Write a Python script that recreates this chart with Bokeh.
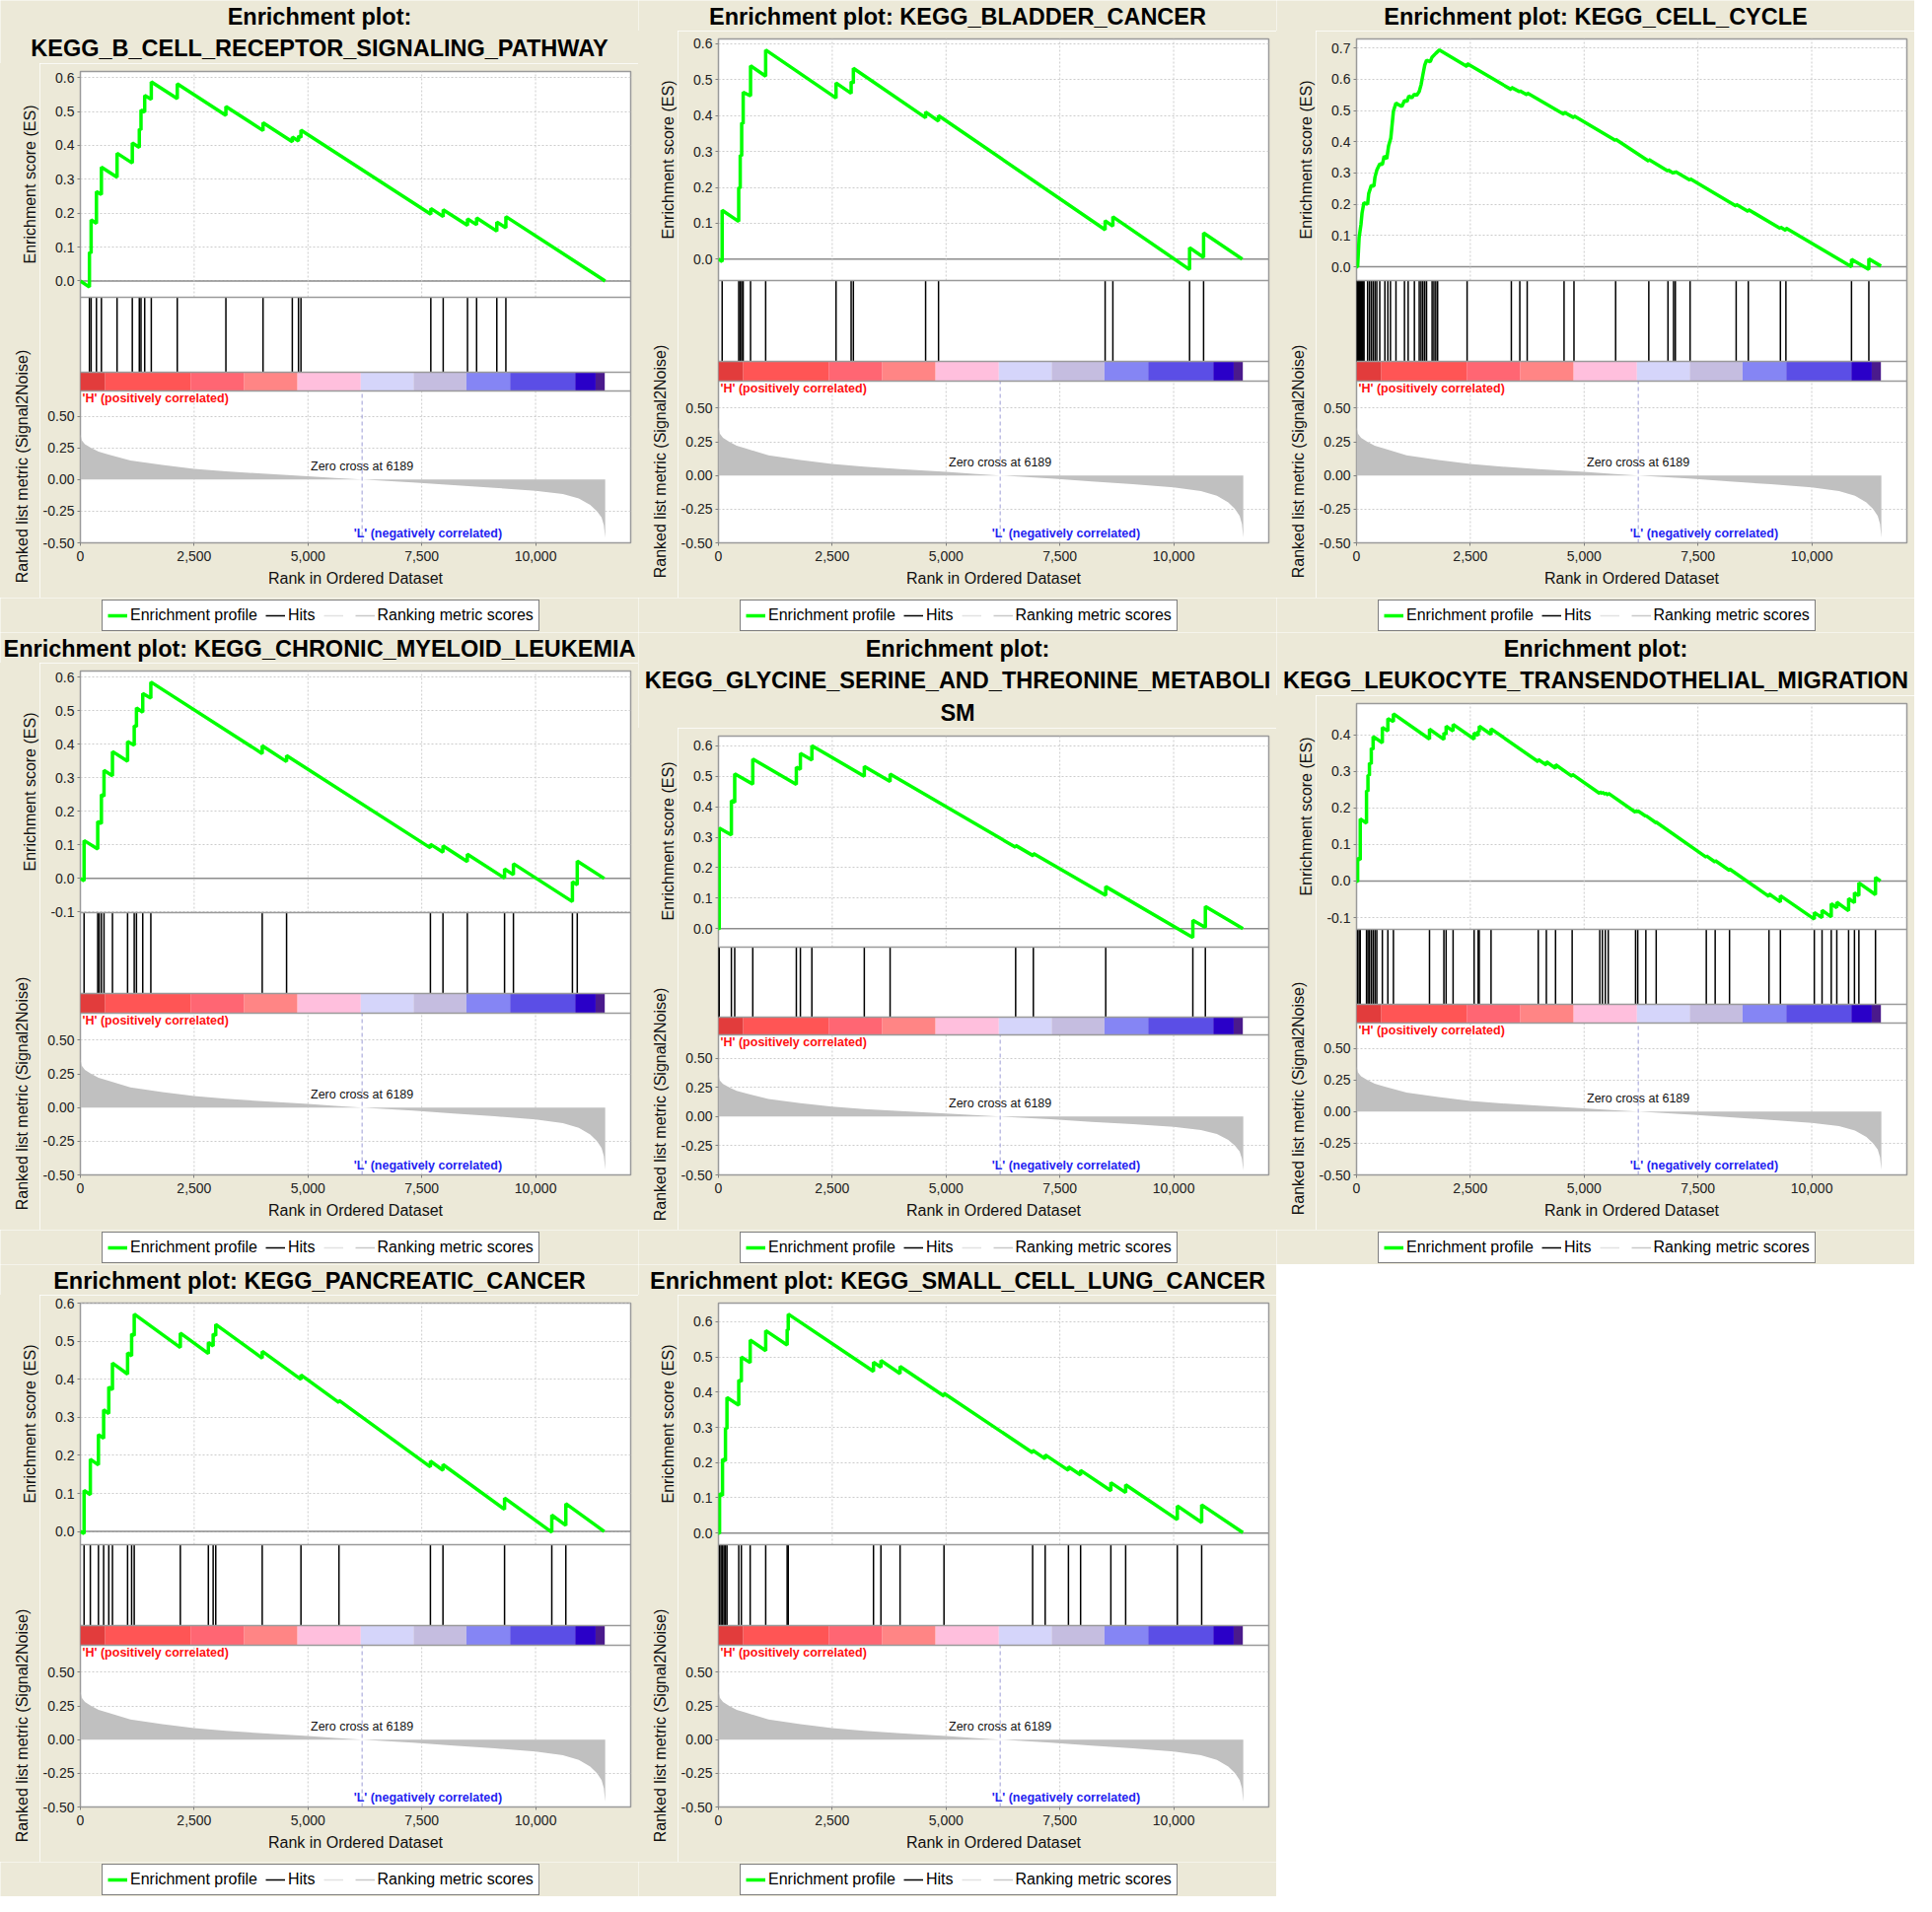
import math
from bokeh.plotting import figure
from bokeh.models import (Range1d, Label, Legend, LegendItem, Span, Grid, FixedTicker,
                          PrintfTickFormatter, NumeralTickFormatter, Spacer, Div)
from bokeh.layouts import column, row
from bokeh.embed import file_html
from bokeh.resources import INLINE

# ---------------------------------------------------------------- data
titles = [
    ["Enrichment plot:", "KEGG_B_CELL_RECEPTOR_SIGNALING_PATHWAY"],
    ["Enrichment plot: KEGG_BLADDER_CANCER"],
    ["Enrichment plot: KEGG_CELL_CYCLE"],
    ["Enrichment plot: KEGG_CHRONIC_MYELOID_LEUKEMIA"],
    ["Enrichment plot:", "KEGG_GLYCINE_SERINE_AND_THREONINE_METABOLI", "SM"],
    ["Enrichment plot:", "KEGG_LEUKOCYTE_TRANSENDOTHELIAL_MIGRATION"],
    ["Enrichment plot: KEGG_PANCREATIC_CANCER"],
    ["Enrichment plot: KEGG_SMALL_CELL_LUNG_CANCER"],
]

# running enrichment score: (rank, ES) vertices
es_b_cell = [(0, 0.0), (199, -0.018), (199, 0.085), (236, 0.082), (236, 0.180), (353, 0.170), (353, 0.264),
             (462, 0.255), (462, 0.336), (806, 0.306), (806, 0.377), (1141, 0.348), (1141, 0.407),
             (1295, 0.394), (1295, 0.449), (1332, 0.446), (1332, 0.505), (1413, 0.498), (1413, 0.548),
             (1558, 0.536), (1558, 0.588), (2129, 0.538), (2129, 0.582), (3197, 0.489), (3197, 0.515),
             (4013, 0.444), (4013, 0.467), (4656, 0.411), (4656, 0.425), (4792, 0.413), (4792, 0.428),
             (4846, 0.423), (4846, 0.445), (7699, 0.197), (7699, 0.214), (7971, 0.190), (7971, 0.210),
             (8505, 0.164), (8505, 0.183), (8705, 0.166), (8705, 0.186), (9149, 0.147), (9149, 0.174),
             (9348, 0.157), (9348, 0.190), (11530, 0.0)]
hits_b_cell = [199, 236, 353, 462, 806, 1141, 1295, 1332, 1413, 1558, 2129, 3197, 4013, 4656, 4792, 4846,
               7699, 7971, 8505, 8705, 9149, 9348]

es_bladder = [(0, 0.0), (81, -0.007), (81, 0.136), (445, 0.105), (445, 0.2), (478, 0.197), (478, 0.29),
              (510, 0.287), (510, 0.38), (543, 0.377), (543, 0.465), (705, 0.455), (705, 0.539),
              (1037, 0.51), (1037, 0.583), (2583, 0.449), (2583, 0.491), (2915, 0.462), (2915, 0.495),
              (2964, 0.49), (2964, 0.532), (4551, 0.394), (4551, 0.41), (4835, 0.385), (4835, 0.4),
              (8495, 0.082), (8495, 0.107), (8665, 0.092), (8665, 0.118), (10350, -0.029), (10350, 0.032),
              (10658, 0.005), (10658, 0.073), (11508, 0.0)]
hits_bladder = [81, 445, 478, 510, 543, 705, 1037, 2583, 2915, 2964, 4551, 4835, 8495, 8665, 10350, 10658]

es_cell_cycle = [(0, 0.0), (24, 0.0), (57, 0.094), (97, 0.135), (121, 0.172), (162, 0.205), (243, 0.2),
                 (267, 0.234), (324, 0.26), (381, 0.258), (405, 0.287), (445, 0.309), (510, 0.329),
                 (567, 0.327), (607, 0.354), (664, 0.346), (704, 0.387), (753, 0.412), (810, 0.498),
                 (866, 0.524), (931, 0.518), (996, 0.513), (1053, 0.532), (1109, 0.529), (1150, 0.547),
                 (1215, 0.54), (1271, 0.553), (1320, 0.548), (1377, 0.561), (1417, 0.582), (1457, 0.614),
                 (1498, 0.645), (1538, 0.661), (1619, 0.656), (1660, 0.671), (1741, 0.683), (1822, 0.694),
                 (2429, 0.641), (2429, 0.65), (3401, 0.567), (3401, 0.574), (3587, 0.56), (3587, 0.563),
                 (3749, 0.55), (3749, 0.556), (4559, 0.488), (4559, 0.495), (4777, 0.477), (4777, 0.483),
                 (5692, 0.404), (5692, 0.408), (6421, 0.338), (6421, 0.343), (6842, 0.306), (6842, 0.31),
                 (6964, 0.299), (6964, 0.304), (7004, 0.3), (7004, 0.305), (7328, 0.277), (7328, 0.282),
                 (8340, 0.194), (8340, 0.2), (8607, 0.177), (8607, 0.183), (9312, 0.122), (9312, 0.127),
                 (9433, 0.116), (9433, 0.124), (10874, 0.0), (10874, 0.024), (11255, -0.009),
                 (11255, 0.025), (11522, 0.002)]
hits_cell_cycle = [5, 25, 45, 65, 85, 105, 125, 145, 165, 243, 284, 324, 364, 405, 445, 510, 623, 688, 745,
                   866, 1053, 1134, 1271, 1377, 1417, 1457, 1498, 1538, 1660, 1700, 1741, 1781, 2429, 3401,
                   3587, 3749, 4559, 4777, 5692, 6421, 6842, 6964, 7004, 7328, 8340, 8607, 9312, 9433,
                   10874, 11255]

es_cml = [(0, 0.0), (81, -0.007), (81, 0.113), (381, 0.088), (381, 0.17), (462, 0.163), (462, 0.25),
          (519, 0.245), (519, 0.322), (705, 0.306), (705, 0.378), (1037, 0.349), (1037, 0.408),
          (1183, 0.397), (1183, 0.455), (1232, 0.452), (1232, 0.508), (1370, 0.495), (1370, 0.551),
          (1548, 0.537), (1548, 0.585), (3995, 0.372), (3995, 0.395), (4530, 0.348), (4530, 0.366),
          (7690, 0.091), (7690, 0.102), (7966, 0.078), (7966, 0.097), (8501, 0.05), (8501, 0.072),
          (9319, 0.001), (9319, 0.028), (9514, 0.011), (9514, 0.044), (10810, -0.069), (10810, -0.01),
          (10916, -0.019), (10916, 0.052), (11510, 0.0)]
hits_cml = [81, 381, 413, 462, 519, 705, 1037, 1183, 1232, 1370, 1548, 3995, 4530, 7690, 7966, 8501, 9319,
            9514, 10810, 10916]

es_glycine = [(0, 0.0), (16, -0.002), (16, 0.33), (284, 0.307), (284, 0.42), (357, 0.414), (357, 0.508),
              (754, 0.474), (754, 0.556), (1711, 0.473), (1711, 0.53), (1800, 0.522), (1800, 0.575),
              (2052, 0.553), (2052, 0.6), (3204, 0.5), (3204, 0.532), (3771, 0.483), (3771, 0.507),
              (6529, 0.267), (6529, 0.273), (6918, 0.239), (6918, 0.247), (8508, 0.109), (8508, 0.138),
              (10422, -0.029), (10422, 0.028), (10697, 0.004), (10697, 0.073), (11522, 0.0)]
hits_glycine = [5, 16, 284, 357, 754, 1711, 1800, 2052, 3204, 3771, 6529, 6918, 8508, 10422, 10697]

es_leukocyte = [(0, 0.0), (24, -0.002), (24, 0.063), (81, 0.058), (81, 0.17), (219, 0.158), (219, 0.247),
                (251, 0.245), (251, 0.29), (283, 0.288), (283, 0.323), (324, 0.32), (324, 0.363),
                (364, 0.36), (364, 0.395), (567, 0.378), (567, 0.42), (688, 0.41), (688, 0.444),
                (810, 0.436), (810, 0.457), (1603, 0.388), (1603, 0.415), (1919, 0.387), (1919, 0.405),
                (1968, 0.401), (1968, 0.423), (2121, 0.41), (2121, 0.428), (2583, 0.388), (2583, 0.405),
                (2672, 0.398), (2672, 0.41), (2696, 0.408), (2696, 0.423), (2955, 0.401), (2955, 0.416),
                (3992, 0.326), (3992, 0.332), (4170, 0.317), (4170, 0.326), (4372, 0.308), (4372, 0.318),
                (4737, 0.286), (4737, 0.292), (5344, 0.239), (5344, 0.244), (5401, 0.239), (5401, 0.243),
                (5466, 0.237), (5466, 0.241), (5530, 0.235), (5530, 0.24), (6130, 0.188), (6130, 0.193),
                (6178, 0.189), (6178, 0.192), (6356, 0.177), (6356, 0.179), (6583, 0.159), (6583, 0.161),
                (7684, 0.065), (7684, 0.069), (7879, 0.052), (7879, 0.056), (8194, 0.029), (8194, 0.033),
                (9061, -0.042), (9061, -0.035), (9312, -0.057), (9312, -0.04), (10057, -0.104),
                (10057, -0.086), (10227, -0.1), (10227, -0.08), (10429, -0.098), (10429, -0.062),
                (10551, -0.073), (10551, -0.058), (10810, -0.081), (10810, -0.048), (10939, -0.059),
                (10939, -0.032), (11036, -0.04), (11036, -0.005), (11401, -0.037), (11401, 0.01),
                (11510, 0.0)]
hits_leukocyte = [24, 57, 81, 219, 251, 283, 324, 364, 405, 445, 567, 688, 810, 1603, 1919, 1968, 2121,
                  2583, 2672, 2696, 2955, 3992, 4170, 4372, 4737, 5344, 5401, 5466, 5530, 6130, 6178,
                  6356, 6583, 7684, 7879, 8194, 9061, 9312, 10057, 10227, 10429, 10551, 10810, 10939,
                  11036, 11401]

es_pancreatic = [(0, 0.0), (81, -0.006), (81, 0.108), (219, 0.097), (219, 0.19), (397, 0.175), (397, 0.255),
                 (511, 0.245), (511, 0.32), (624, 0.31), (624, 0.38), (705, 0.373), (705, 0.443),
                 (1037, 0.414), (1037, 0.47), (1126, 0.462), (1126, 0.52), (1183, 0.515), (1183, 0.572),
                 (2196, 0.484), (2196, 0.522), (2812, 0.468), (2812, 0.497), (2917, 0.488), (2917, 0.52),
                 (2974, 0.515), (2974, 0.545), (3995, 0.456), (3995, 0.474), (4846, 0.4), (4846, 0.412),
                 (5681, 0.339), (5681, 0.345), (7690, 0.17), (7690, 0.185), (7966, 0.161), (7966, 0.176),
                 (9319, 0.058), (9319, 0.088), (10357, -0.002), (10357, 0.043), (10665, 0.016),
                 (10665, 0.073), (11510, 0.0)]
hits_pancreatic = [81, 219, 397, 511, 624, 705, 1037, 1126, 1183, 2196, 2812, 2917, 2974, 3995, 4846, 5681,
                   7690, 7966, 9319, 10357, 10665]

es_sclc = [(0, 0.0), (24, -0.002), (24, 0.112), (89, 0.106), (89, 0.21), (154, 0.205), (154, 0.298),
           (187, 0.296), (187, 0.385), (446, 0.363), (446, 0.435), (503, 0.43), (503, 0.5), (697, 0.484),
           (697, 0.548), (1038, 0.518), (1038, 0.575), (1509, 0.534), (1509, 0.578), (1533, 0.576),
           (1533, 0.622), (3406, 0.459), (3406, 0.485), (3569, 0.471), (3569, 0.49), (3990, 0.453),
           (3990, 0.473), (4955, 0.389), (4955, 0.397), (6902, 0.228), (6902, 0.235), (7178, 0.211),
           (7178, 0.222), (7689, 0.178), (7689, 0.188), (7956, 0.165), (7956, 0.178), (8621, 0.12),
           (8621, 0.143), (8946, 0.115), (8946, 0.137), (10081, 0.038), (10081, 0.077), (10616, 0.03),
           (10616, 0.08), (11522, 0.001)]
hits_sclc = [24, 57, 89, 122, 154, 187, 446, 503, 697, 1038, 1509, 1533, 3406, 3569, 3990, 4955, 6902, 7178,
             7689, 7956, 8621, 8946, 10081, 10616]

# ranked list metric (Signal2Noise), shared by all panels
metric_rank = [0, 30, 100, 237, 400, 600, 1100, 1800, 2500, 3200, 4000, 5000, 5600, 6189, 7300, 8200,
               9100, 10000, 10600, 10950, 11200, 11350, 11450, 11500, 11530]
metric_value = [0.36, 0.31, 0.28, 0.25, 0.22, 0.2, 0.15, 0.115, 0.085, 0.065, 0.047, 0.026, 0.013, 0.0,
                -0.023, -0.045, -0.065, -0.088, -0.115, -0.15, -0.2, -0.25, -0.3, -0.36, -0.46]
zero_cross = 6189

# heat-map colour bar of the ranked list
cbar_start = [0, 545, 2420, 3600, 4770, 6160, 7320, 8480, 9440, 10870, 11320]
cbar_end = [545, 2420, 3600, 4770, 6160, 7320, 8480, 9440, 10870, 11320, 11520]
cbar_color = ["#E23C3C", "#FF5555", "#FF6673", "#FF8585", "#FFBFDD", "#D5D5FA", "#C5BDE0", "#8585F4",
              "#5B4EE6", "#2A00C8", "#4A1A8C"]

x_ticks = [0, 2500, 5000, 7500, 10000]
metric_ticks = [-0.5, -0.25, 0.0, 0.25, 0.5]
metric_grid = [-0.25, 0.25, 0.5]

es_all = [es_b_cell, es_bladder, es_cell_cycle, es_cml, es_glycine, es_leukocyte, es_pancreatic, es_sclc]
hits_all = [hits_b_cell, hits_bladder, hits_cell_cycle, hits_cml, hits_glycine, hits_leukocyte,
            hits_pancreatic, hits_sclc]

# ---------------------------------------------------------------- style / layout
BEIGE = "#ECE9D8"
FONT = "Liberation Sans"
OUT = "#9A9A9A"
GRID = "#CCCCCC"
PW, PH = 647, 641
SW = 40              # strip holding the rotated y-axis labels
ML, MR = 41, 8       # main figure borders (left, right)
MT, MB = 8, 56       # main figure borders (top, bottom)
FW = PW - SW - ML - MR
X_END = 12090
B = 550              # frame bottom measured from panel top
LEG_H = PH - B - MB  # 35
M_LO, M_HI = -0.5, 0.7
L_LABEL_X = 6005


def style_axis(ax, label_standoff=6):
    ax.axis_line_color = None
    ax.major_tick_line_color = "#808080"
    ax.major_tick_out = 3
    ax.major_tick_in = 0
    ax.minor_tick_line_color = None
    ax.major_label_standoff = 3
    ax.major_label_text_font = FONT
    ax.major_label_text_font_size = "14px"
    ax.major_label_text_color = "#222222"
    ax.axis_label_text_font = FONT
    ax.axis_label_text_font_size = "16px"
    ax.axis_label_text_font_style = "normal"
    ax.axis_label_text_color = "#111111"
    ax.axis_label_standoff = label_standoff


def plain_fig(w, h):
    f = figure(width=w, height=h, x_range=Range1d(0, w), y_range=Range1d(0, h),
               output_backend="svg", toolbar_location=None,
               x_axis_location=None, y_axis_location=None,
               min_border_left=0, min_border_right=0, min_border_top=0, min_border_bottom=0,
               background_fill_color=BEIGE, border_fill_color=BEIGE, outline_line_color=None)
    f.grid.visible = False
    return f


def rotated(x, y, text):
    return (f'<div style="position:absolute;left:{x}px;top:{y}px;width:0;height:0;">'
            f'<div style="position:absolute;left:0;top:0;transform:translate(-50%,-50%) rotate(-90deg);'
            f'white-space:nowrap;font-family:\'{FONT}\';font-size:16px;line-height:18px;color:#111111;">'
            f'{text}</div></div>')


def label_strip(h, es_c, m_c):
    html = (f'<div style="position:relative;width:{SW}px;height:{h}px;background:{BEIGE};overflow:hidden;'
            f'margin:0;padding:0;">'
            + rotated(31, es_c, "Enrichment score (ES)")
            + rotated(23, m_c, "Ranked list metric (Signal2Noise)")
            + '</div>')
    return Div(text=html, width=SW, height=h, margin=0,
               styles={"background-color": BEIGE, "margin": "0", "padding": "0"})


def make_panel(title_lines, es_pts, hits):
    n = len(title_lines)
    T = 6 + 33 * n
    S = B - T
    es_h = round(0.48 * S)
    hit_h = round(0.16 * S)
    cb_h = round(0.04 * S)
    m_h = S - es_h - hit_h - cb_h
    HM = MT + S + MB

    # ---------------- title
    th = T - MT
    tf = plain_fig(PW, th)
    for i, line in enumerate(title_lines):
        c = 16 + 32.5 * i
        tf.add_layout(Label(x=PW / 2, y=th - c, text=line, text_color="black", text_font=FONT,
                            text_font_style="bold", text_font_size="23.5px",
                            text_align="center", text_baseline="middle"))

    # ---------------- rotated axis labels (left strip)
    strip = label_strip(HM, MT + es_h / 2, MT + es_h + hit_h + cb_h + m_h / 2)

    # ---------------- main stacked plot
    ex = [v[0] for v in es_pts]
    ey = [v[1] for v in es_pts]
    lo, hi = min(ey), max(ey)
    pad = 0.05 * (hi - lo)
    es_lo, es_hi = lo - pad, hi + pad
    upp = (es_hi - es_lo) / es_h
    y0 = es_hi - S * upp

    def py(px):
        return y0 + px * upp

    def mpx(m):
        return (m - M_LO) / (M_HI - M_LO) * m_h

    m_end = M_LO + (M_HI - M_LO) * S / m_h

    p = figure(width=PW - SW, height=HM, x_range=Range1d(0, X_END), y_range=Range1d(y0, es_hi),
               output_backend="svg", toolbar_location=None,
               x_axis_location="below", y_axis_location="left",
               min_border_left=ML, min_border_right=MR, min_border_top=MT, min_border_bottom=MB,
               background_fill_color="white", border_fill_color=BEIGE,
               outline_line_color=OUT, outline_line_width=1.5)
    p.extra_y_ranges = {"metric": Range1d(M_LO, m_end)}
    p.grid.visible = False

    es_ticks = [k / 10 for k in range(math.ceil(es_lo * 10 - 1e-9), math.floor(es_hi * 10 + 1e-9) + 1)]
    m_pos = [py(mpx(m)) for m in metric_ticks]
    ya = p.yaxis[0]
    ya.ticker = FixedTicker(ticks=es_ticks + m_pos)
    ya.formatter = PrintfTickFormatter(format="%.1f")
    ya.major_label_overrides = {mp: f"{m:.2f}" for mp, m in zip(m_pos, metric_ticks)}
    style_axis(ya)

    xa = p.xaxis[0]
    xa.ticker = FixedTicker(ticks=x_ticks)
    xa.formatter = NumeralTickFormatter(format="0,0")
    xa.axis_label = "Rank in Ordered Dataset"
    style_axis(xa, label_standoff=6)
    xa.major_label_standoff = 5

    p.add_layout(Grid(dimension=1, ticker=FixedTicker(ticks=es_ticks), grid_line_color=GRID,
                      grid_line_dash="2 2"))
    p.add_layout(Grid(dimension=1, ticker=FixedTicker(ticks=[py(mpx(m)) for m in metric_grid]),
                      grid_line_color=GRID, grid_line_dash="2 2"))
    vx = [t for t in x_ticks if t > 0]
    p.segment(x0=vx, y0=[es_lo] * len(vx), x1=vx, y1=[es_hi] * len(vx), line_color=GRID,
              line_dash="2 2", line_width=1)
    p.segment(x0=vx, y0=[M_LO] * len(vx), x1=vx, y1=[M_HI] * len(vx), line_color=GRID,
              line_dash="2 2", line_width=1, y_range_name="metric")

    p.varea(x=metric_rank, y1=[0] * len(metric_rank), y2=metric_value, fill_color="#C0C0C0",
            y_range_name="metric")
    p.segment(x0=[zero_cross], y0=[M_LO], x1=[zero_cross], y1=[M_HI], line_color="#9C9CD6",
              line_dash="4 3", line_width=1, y_range_name="metric")

    p.quad(left=cbar_start, right=cbar_end, bottom=py(m_h), top=py(m_h + cb_h),
           fill_color=cbar_color, line_color=None)

    p.segment(x0=hits, y0=[py(m_h + cb_h)] * len(hits), x1=hits, y1=[py(m_h + cb_h + hit_h)] * len(hits),
              line_color="black", line_width=1.5)

    for px in (m_h, m_h + cb_h, m_h + cb_h + hit_h):
        p.add_layout(Span(location=py(px), dimension="width", line_color=OUT, line_width=1.5))
    p.add_layout(Span(location=0, dimension="width", line_color="#8C8C8C", line_width=1.5,
                      level="underlay"))

    p.line(ex, ey, line_color="#00FF00", line_width=3.5)

    p.add_layout(Label(x=0, y=M_HI, x_offset=2, y_offset=-7, y_range_name="metric",
                       text="'H' (positively correlated)", text_color="#FF1010", text_font=FONT,
                       text_font_style="bold", text_font_size="12.5px", text_align="left",
                       text_baseline="middle"))
    p.add_layout(Label(x=L_LABEL_X, y=M_LO, y_offset=10, y_range_name="metric",
                       text="'L' (negatively correlated)", text_color="#2424F0", text_font=FONT,
                       text_font_style="bold", text_font_size="12.5px", text_align="left",
                       text_baseline="middle"))
    p.add_layout(Label(x=zero_cross, y=0, y_offset=13, y_range_name="metric",
                       text=f"Zero cross at {zero_cross}", text_color="#111111", text_font=FONT,
                       text_font_size="12.5px", text_align="center", text_baseline="middle"))

    # ---------------- legend
    lf = plain_fig(PW, LEG_H)
    hide_x, hide_y = [-20, -10], [-20, -20]
    r_es = lf.line(x=hide_x, y=hide_y, line_color="#00FF00", line_width=3.5)
    r_hit = lf.line(x=hide_x, y=hide_y, line_color="black", line_width=1.5)
    r_ghost = lf.line(x=hide_x, y=hide_y, line_color="#E2E2E2", line_width=1.5)
    r_rank = lf.line(x=hide_x, y=hide_y, line_color="#C8C8C8", line_width=1.5)
    leg = Legend(items=[LegendItem(label="Enrichment profile", renderers=[r_es]),
                        LegendItem(label="Hits", renderers=[r_hit]),
                        LegendItem(label=" ", renderers=[r_ghost]),
                        LegendItem(label="Ranking metric scores", renderers=[r_rank])],
                 location=(103, 1), orientation="horizontal",
                 label_text_font=FONT, label_text_font_size="16px", label_text_color="black",
                 border_line_color="black", border_line_width=1.5,
                 background_fill_color="white", background_fill_alpha=1.0,
                 glyph_width=20, glyph_height=20, label_height=20, label_width=1, label_standoff=3,
                 spacing=8, padding=5, margin=0)
    lf.add_layout(leg)

    return column(tf, row(strip, p), lf)


panels = [make_panel(t, e, h) for t, e, h in zip(titles, es_all, hits_all)]
layout = column(row(panels[0], panels[1], panels[2]),
                row(panels[3], panels[4], panels[5]),
                row(panels[6], panels[7], Spacer(width=PW, height=PH)))

open("out.html", "w").write(file_html(layout, INLINE, "GSEA enrichment plots"))
